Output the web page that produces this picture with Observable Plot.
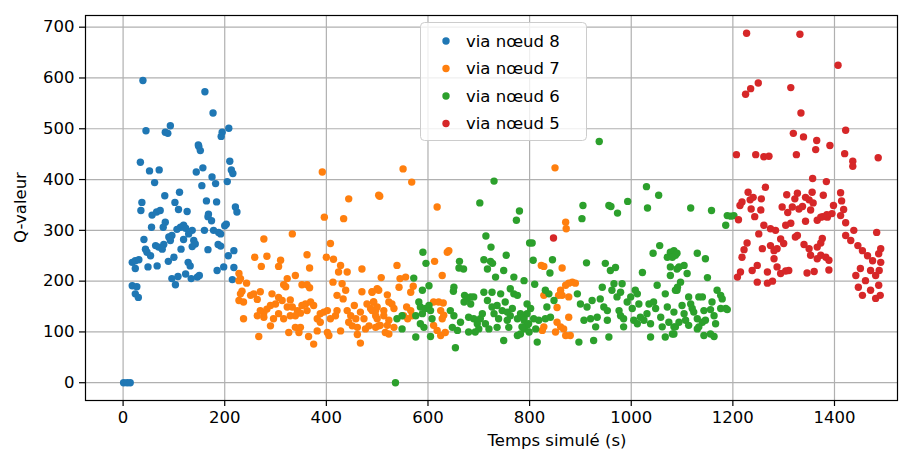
<!DOCTYPE html>
<html>
<head>
<meta charset="utf-8">
<script src="https://cdn.jsdelivr.net/npm/d3@7"></script>
<script src="https://cdn.jsdelivr.net/npm/@observablehq/plot@0.6"></script>
<style>
  html, body { margin: 0; padding: 0; background: white; }
  #chart { width: 910px; height: 452px; }
</style>
</head>
<body>
<div id="chart"></div>
<script>
// ---- Data ----
const seriesNames = ["via nœud 8", "via nœud 7", "via nœud 6", "via nœud 5"];
const seriesColors = ["#1f77b4", "#ff7f0e", "#2ca02c", "#d62728"];
const xTicks = [0, 200, 400, 600, 800, 1000, 1200, 1400];
const yTicks = [0, 100, 200, 300, 400, 500, 600, 700];

const node8 = [
  [39,595],[161,573],[177,531],[93,506],[45,496],[83,493],[88,491],[195,493],[208,501],[193,485],[148,468],
  [149,465],[152,457],[34,434],[52,417],[71,419],[62,394],[157,423],[144,415],[175,405],[182,392],[210,436],
  [213,419],[216,412],[205,396],[155,388],[82,368],[111,375],[37,355],[35,339],[102,355],[109,341],[126,337],
  [164,358],[184,356],[221,346],[224,336],[57,330],[66,336],[73,339],[168,332],[167,327],[174,319],[83,316],
  [79,306],[56,306],[113,306],[106,302],[119,310],[123,304],[136,300],[129,293],[160,300],[178,300],[188,296],
  [192,293],[200,309],[203,312],[41,282],[96,290],[93,280],[90,287],[119,282],[139,280],[142,273],[136,268],
  [44,263],[47,257],[54,250],[64,270],[70,267],[80,272],[77,263],[114,263],[167,262],[187,272],[192,269],
  [218,260],[207,250],[18,237],[24,240],[31,242],[89,239],[100,247],[128,237],[132,230],[24,225],[49,228],
  [67,230],[198,228],[218,227],[185,221],[123,214],[96,205],[108,209],[103,193],[134,205],[146,208],[150,211],
  [215,203],[18,191],[27,189],[24,175],[30,168],[1,0],[8,0],[14,0]
];

const node7 = [
  [392,415],[444,362],[503,369],[396,326],[434,323],[333,293],[277,283],[408,274],[259,247],[283,249],[272,229],
  [310,241],[306,229],[362,252],[400,247],[414,243],[428,231],[367,226],[470,224],[441,218],[424,218],[228,215],
  [231,205],[243,196],[323,205],[339,211],[316,193],[320,189],[352,193],[367,187],[362,193],[413,198],[431,195],
  [438,182],[421,172],[433,165],[470,179],[490,179],[500,185],[234,180],[251,172],[257,175],[270,179],[264,164],
  [228,162],[237,159],[293,175],[306,168],[313,162],[300,155],[290,152],[283,145],[277,138],[329,163],[323,149],
  [333,149],[343,142],[352,152],[359,155],[369,159],[375,152],[362,142],[349,137],[339,132],[329,132],[388,136],
  [382,126],[388,119],[395,139],[402,142],[408,126],[418,132],[421,142],[441,142],[448,132],[455,152],[458,126],
  [451,112],[461,109],[444,119],[467,139],[474,126],[480,155],[487,146],[493,159],[497,142],[500,126],[503,112],
  [484,112],[477,106],[237,126],[264,132],[270,142],[290,112],[277,129],[296,126],[306,136],[316,126],[267,91],
  [326,99],[346,99],[339,109],[349,109],[365,91],[375,76],[382,102],[402,99],[405,93],[428,102],[461,95],[467,78],
  [228,201],[231,175],
  [551,421],[568,395],[505,367],[618,346],[638,257],[641,260],[613,239],[539,231],[628,211],[556,208],[545,205],
  [508,207],[503,182],[520,173],[543,188],[566,178],[571,190],[490,178],[493,159],[500,149],[513,142],[523,159],
  [529,155],[533,146],[497,132],[513,132],[523,123],[506,113],[497,109],[490,142],[558,149],[566,142],[569,132],
  [560,126],[552,132],[520,113],[533,109],[523,96],[516,99],[611,159],[621,159],[630,157],[625,142],[628,126],
  [611,113],[618,103],[625,93],[634,99],[631,133],
  [850,423],[871,316],[872,303],[823,231],[828,229],[864,226],[877,196],[884,198],[890,196],[871,192],[861,182],
  [864,172],[857,172],[877,169],[828,172],[854,148],[877,129],[854,119],[861,110],[867,106],[851,100],[871,93],
  [880,93],[828,110],[825,103]
];

const node6 = [
  [536,0],
  [730,397],[702,354],[780,338],[774,320],[714,289],[724,267],[754,251],[590,257],[596,235],[662,239],[661,226],
  [670,224],[710,242],[723,239],[727,235],[717,224],[749,221],[800,275],[733,208],[769,208],[789,201],[572,206],
  [602,191],[589,182],[651,188],[650,180],[672,172],[684,169],[710,178],[726,178],[743,175],[762,185],[769,175],
  [776,172],[582,159],[585,149],[576,132],[589,136],[595,146],[602,152],[605,142],[608,126],[585,116],[592,109],
  [549,132],[539,126],[549,106],[576,90],[605,91],[644,142],[651,132],[648,109],[658,103],[654,69],[664,119],
  [671,159],[677,165],[684,155],[690,169],[680,129],[690,126],[697,116],[700,106],[703,126],[707,136],[713,116],
  [720,106],[693,100],[680,100],[717,162],[726,149],[730,136],[736,152],[739,126],[736,109],[746,142],[752,159],
  [756,139],[762,132],[756,123],[759,109],[766,146],[776,126],[782,136],[789,129],[795,155],[795,113],[789,106],
  [799,100],[749,83],[776,93],
  [937,475],[1030,386],[1054,369],[1032,344],[993,357],[905,349],[956,349],[960,347],[973,334],[903,323],
  [805,275],[807,241],[845,242],[840,216],[810,194],[912,236],[949,235],[959,221],[969,227],[1022,217],[1056,270],
  [1043,255],[1077,257],[1084,260],[1090,255],[1071,247],[1077,211],[1090,224],
  [831,182],[838,175],[848,162],[834,149],[802,146],[795,136],[789,123],[798,116],[785,110],[782,96],[808,126],
  [818,123],[812,106],[831,126],[841,129],[815,80],[894,175],[900,155],[913,149],[907,123],[920,126],[930,110],
  [933,129],[923,162],[939,165],[943,188],[946,149],[953,142],[953,123],[962,182],[966,195],[972,169],[979,178],
  [976,142],[979,132],[985,126],[985,110],[982,195],[992,159],[999,169],[1002,146],[1008,182],[1012,175],
  [1015,155],[1005,123],[1012,116],[1018,129],[1025,123],[1031,136],[1035,155],[1038,116],[1044,159],[1048,146],
  [1051,192],[1058,129],[1061,110],[1067,175],[1071,149],[1074,119],[1084,139],[1090,182],[1087,110],[1094,119],
  [1038,90],[1067,90],[1084,96],[897,80],[926,83],[956,90],
  [1117,344],[1158,339],[1189,329],[1196,328],[1202,329],[1186,310],
  [1087,251],[1081,247],[1130,255],[1146,244],[1077,228],[1094,228],[1104,231],[1110,215],[1150,207],[1097,198],
  [1091,188],[1087,182],[1169,182],[1176,172],[1179,165],[1113,169],[1133,169],[1140,169],[1159,159],[1100,152],
  [1117,155],[1120,146],[1123,139],[1143,142],[1156,144],[1163,132],[1176,146],[1186,146],[1189,144],[1104,136],
  [1107,123],[1130,126],[1140,119],[1146,123],[1166,116],[1113,113],[1130,106],[1084,110],[1081,96],[1143,93],
  [1163,91],[1156,96],[1133,110]
];

const node5 = [
  [847,285],
  [1227,688],[1332,686],[1407,625],[1250,590],[1235,579],[1225,568],[1314,581],[1334,531],[1422,497],
  [1319,491],[1339,484],[1365,477],[1363,459],[1391,467],[1207,449],[1245,449],[1261,445],[1271,446],[1325,449],
  [1384,396],[1264,385],[1230,375],[1240,365],[1234,360],[1256,362],[1218,356],[1214,349],[1236,342],[1255,340],
  [1243,327],[1211,321],[1306,370],[1327,373],[1322,362],[1356,375],[1343,365],[1350,360],[1358,354],[1297,346],
  [1317,346],[1330,342],[1337,347],[1353,340],[1308,335],[1373,326],[1386,326],[1343,318],[1314,314],[1304,310],
  [1261,310],[1274,303],
  [1284,300],[1366,320],[1251,293],[1294,283],[1300,274],[1323,287],[1327,290],[1376,284],[1373,275],[1228,275],
  [1222,262],[1218,247],[1258,264],[1274,270],[1281,260],[1287,264],[1281,244],[1340,272],[1350,264],[1366,267],
  [1353,251],[1366,244],[1373,251],[1383,247],[1389,241],[1248,231],[1238,221],[1215,218],[1209,208],[1268,218],
  [1287,228],[1294,215],[1304,220],[1310,221],[1346,216],[1360,219],[1389,222],[1248,198],[1268,196],[1278,200],
  [1420,451],[1436,436],[1436,426],[1486,443],[1412,374],[1414,358],[1418,341],[1432,280],[1446,270],[1455,260],
  [1465,250],[1475,240],[1487,254],[1491,264],[1491,237],[1471,221],[1451,225],[1442,211],[1461,201],[1481,211],
  [1488,221],[1447,188],[1471,182],[1487,192],[1490,172],[1481,166],[1455,172],[1422,290],[1438,300],[1483,296],
  [1422,315],[1412,329],[1395,333],[1385,331],[1377,327],[1398,349],[1378,369],[1357,402]
];

const seriesPoints = [node8, node7, node6, node5];

// table for the library
const rows = [];
seriesPoints.forEach((pts, i) => pts.forEach(([t, q]) => rows.push({t, q, s: seriesNames[i]})));

const W = 910, H = 452;
const mL = 85, mR = 13, mT = 15, mB = 52;
const FONT = "DejaVu Sans";

const chart = Plot.plot({
  width: W, height: H,
  marginLeft: mL, marginRight: mR, marginTop: mT, marginBottom: mB,
  style: {fontFamily: FONT, fontSize: "16.5px", background: "white", color: "black"},
  x: {domain: [-74, 1524]},
  y: {domain: [-35, 723]},
  color: {domain: seriesNames, range: seriesColors},
  marks: [
    Plot.gridX(xTicks, {stroke: "#b0b0b0", strokeOpacity: 1, strokeWidth: 1.2}),
    Plot.gridY(yTicks, {stroke: "#b0b0b0", strokeOpacity: 1, strokeWidth: 1.2}),
    Plot.dot(rows, {x: "t", y: "q", fill: "s", r: 3.7, stroke: null}),
    Plot.axisX(xTicks, {tickSize: 6, tickPadding: 5, label: null, strokeWidth: 1.2, tickFormat: d => String(d)}),
    Plot.axisY(yTicks, {tickSize: 6, tickPadding: 5, label: null, strokeWidth: 1.2, tickFormat: d => String(d)}),
    Plot.frame({stroke: "black", strokeWidth: 1.2})
  ]
});

document.getElementById("chart").appendChild(chart);

const svg = d3.select(chart);
// axis titles
svg.append("text")
  .attr("transform", `translate(20,${(mT + H - mB) / 2}) rotate(-90)`)
  .attr("text-anchor", "middle").attr("dy", "0.35em")
  .style("font-family", FONT).style("font-size", "16.5px").attr("fill", "black")
  .text("Q-valeur");
svg.append("text")
  .attr("x", 557).attr("y", 446)
  .attr("text-anchor", "middle")
  .style("font-family", FONT).style("font-size", "16.5px").attr("fill", "black")
  .text("Temps simulé (s)");

// legend
const lg = svg.append("g");
lg.append("rect").attr("x", 420.5).attr("y", 22.5).attr("width", 166).attr("height", 118)
  .attr("rx", 4).attr("fill", "white").attr("fill-opacity", 0.8).attr("stroke", "#cccccc");
seriesNames.forEach((name, i) => {
  const cy = 41 + i * 27.5;
  lg.append("circle").attr("cx", 446).attr("cy", cy).attr("r", 3.7).attr("fill", seriesColors[i]);
  lg.append("text").attr("x", 466).attr("y", cy).attr("dy", "0.35em").attr("text-anchor", "start")
    .style("font-family", FONT).style("font-size", "16.5px").attr("fill", "black").text(name);
});
</script>
</body>
</html>
